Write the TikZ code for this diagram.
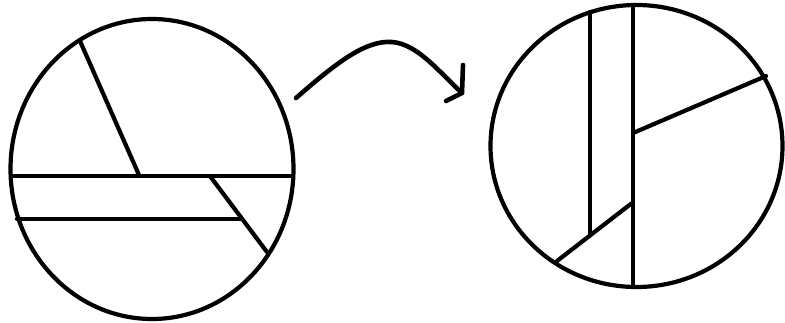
\documentclass[tikz,border=0pt]{standalone}
\begin{document}
\begin{tikzpicture}[x=1pt,y=-1pt,line cap=round,
  stroke/.style={draw=black,line width=4.2pt}]
\useasboundingbox (0,0) rectangle (785,322);
% left circle
\draw[stroke] (152,169) ellipse [x radius=141.5, y radius=150];
\draw[stroke,line cap=butt] (10,176) -- (293,176);
\draw[stroke] (17,219) -- (240,219);
\draw[stroke] (80,41) -- (139,175);
\draw[stroke] (210,176) -- (267,252);
% right circle
\draw[stroke] (636.5,146) ellipse [x radius=146, y radius=141];
\draw[stroke] (590,12) -- (590,235);
\draw[stroke,line cap=butt] (633,3) -- (633,288);
\draw[stroke] (633,133) -- (766,76);
\draw[stroke] (557,261) -- (632,203);
% arrow
\coordinate (as) at (296,98);
\coordinate (ae) at (462,93);
\draw[stroke,line width=4.6pt,line join=round] (as) .. controls (335,64) and (365,40) .. (392,42)
  .. controls (418,44) and (440,73) .. (ae);
\draw[stroke,line width=4.6pt,line join=round] (463,65) -- (ae) -- (446,101);
\end{tikzpicture}
\end{document}
